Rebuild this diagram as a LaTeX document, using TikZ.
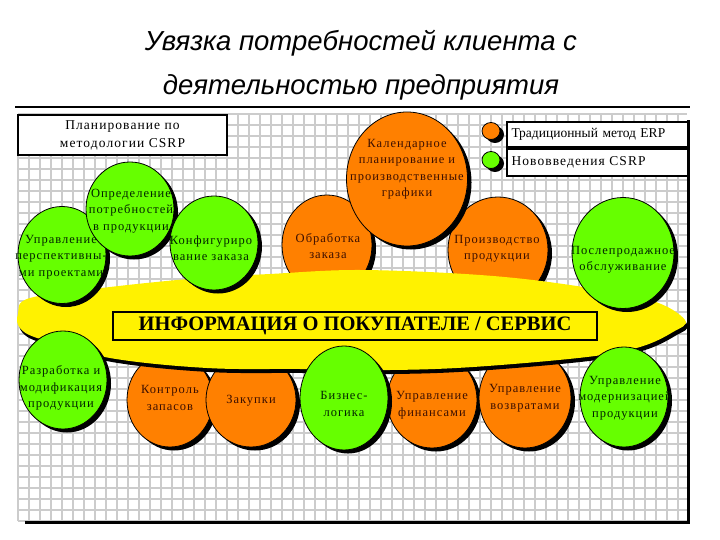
\documentclass[tikz,border=0pt]{standalone}
\usepackage{fontspec}
\setmainfont{Liberation Serif}
\newfontfamily\ballfont{Liberation Serif}[LetterSpace=8]
\newfontfamily\headfont{Liberation Sans}
\usetikzlibrary{shapes.geometric,shadows}

\definecolor{ballorange}{RGB}{255,128,0}
\definecolor{ballgreen}{RGB}{102,255,0}
\definecolor{gridgray}{RGB}{204,204,204}
\definecolor{textbrown}{RGB}{60,15,0}
\definecolor{textgreen}{RGB}{0,35,0}

\tikzset{
  ball/.style={ellipse,draw=black,line width=0.8pt,inner sep=0pt,
    drop shadow={shadow xshift=4pt,shadow yshift=-3.5pt,fill=black,opacity=1}},
  orangeball/.style={ball,fill=ballorange},
  greenball/.style={ball,fill=ballgreen},
  balltext/.style={align=center,inner sep=0pt,font=\ballfont\fontsize{12.5}{16.5}\selectfont},
  headtext/.style={anchor=base,inner sep=0pt,font=\headfont\itshape\fontsize{27.5}{32}\selectfont},
  gridline/.style={draw=gridgray,line width=2.8pt},
  labelbox/.style={draw=black,fill=white,line width=1.2pt,inner sep=0pt}
}

\begin{document}
\begin{tikzpicture}[x=1pt,y=-1pt]
  \useasboundingbox (0,0) rectangle (720,540);

  \node [headtext] at(361,51) (head_a) {Увязка потребностей клиента с};
  \node [headtext] at(361,95) (head_b) {деятельностью предприятия};
  \draw [line width=2pt] (15,107) -- (690,107);

  % grid background
  \foreach \gx in {18,29,...,684}
    \draw [gridline] (\gx,114) -- (\gx,521);
  \foreach \gy in {114,125,...,521}
    \draw [gridline] (18,\gy) -- (687,\gy);
  \draw [line width=3pt] (25,522) -- (688,522) -- (688,120);

  % traditional ERP blocks (under the band)
  \foreach \nm/\cx/\cy/\w/\h in {obr/327/245/90/100,pro/498/250/100/106,kal/407/179/121/134,%
      kon/170/400/86/94,zak/251/400/90/94,fin/432/400/90/96,voz/525/398/92/100}
    \node [orangeball,minimum width=\w pt,minimum height=\h pt] at(\cx,\cy) (\nm) {};

  % customer band
  \path [fill=yellow,drop shadow={shadow xshift=2pt,shadow yshift=-4pt,fill=black,opacity=1}]
    plot [smooth cycle,tension=0.6] coordinates {(18,314) (30,298) (110,287) (200,278) (270,274)
      (360,270) (480,275) (570,285) (650,300) (685,320) (673,332) (640,347) (587,357)
      (473,367) (390,370) (300,369) (207,368) (110,358) (40,339) (20,328)};

  % CSRP blocks
  \foreach \nm/\cx/\cy/\w/\h in {upr/62/255/88/97,opr/130/209/88/94,konf/214/243/88/94,%
      posl/623/253/102/111,razr/63/380/88/98,biz/344/398/88/104,mod/624/397/88/100}
    \node [greenball,minimum width=\w pt,minimum height=\h pt] at(\cx,\cy) (\nm) {};

  \foreach \nm/\tx/\ty/\txt in {obr/328/246/{Обработка\\заказа},pro/497/249/{Производство\\продукции},%
      kal/407/169/{Календарное\\планирование и\\производственные\\графики},kon/170/398/{Контроль\\запасов},%
      zak/251/401/{Закупки},fin/432/405/{Управление\\финансами},voz/525/398/{Управление\\возвратами}}
    \node [balltext,text=textbrown] at(\tx,\ty) (\nm_txt) {\txt};

  \foreach \nm/\tx/\ty/\txt in {upr/61/257/{Управление\\перспективны-\\ми проектами},%
      opr/131/211/{Определение\\потребностей\\в продукции},konf/211/248/{Конфигуриро\\вание заказа},%
      posl/623/260/{Послепродажное\\обслуживание},razr/61/388/{Разработка и\\модификация\\продукции},%
      biz/344/404/{Бизнес-\\логика},mod/625/398/{Управление\\модернизацией\\продукции}}
    \node [balltext,text=textgreen] at(\tx,\ty) (\nm_txt) {\txt};

  \node [draw=black,line width=1.5pt,minimum width=484pt,minimum height=28pt,inner sep=0pt,
    font=\bfseries\fontsize{20.5}{22}\selectfont] at(355,326) (info) {ИНФОРМАЦИЯ О ПОКУПАТЕЛЕ / СЕРВИС};

  \node [labelbox,minimum width=209pt,minimum height=40pt,align=center,
    font=\ballfont\fontsize{13.5}{18}\selectfont] at(122.5,135) (plan) {Планирование по\\методологии CSRP};

  % legend
  \node [orangeball,minimum width=18pt,minimum height=17pt] at(491,131) (dot_erp) {};
  \node [greenball,minimum width=18pt,minimum height=17pt] at(491,160) (dot_csrp) {};
  \node [labelbox,minimum height=25pt,text width=172pt,inner xsep=4.5pt,align=left,
    font=\rmfamily\fontsize{13.5}{14}\selectfont] at(597.5,134.5) (erp) {Традиционный метод ERP};
  \node [labelbox,minimum height=27pt,text width=172pt,inner xsep=4.5pt,align=left,
    font=\ballfont\fontsize{13.5}{14}\selectfont] at(597.5,162.5) (csrp) {Нововведения CSRP};
\end{tikzpicture}
\end{document}
